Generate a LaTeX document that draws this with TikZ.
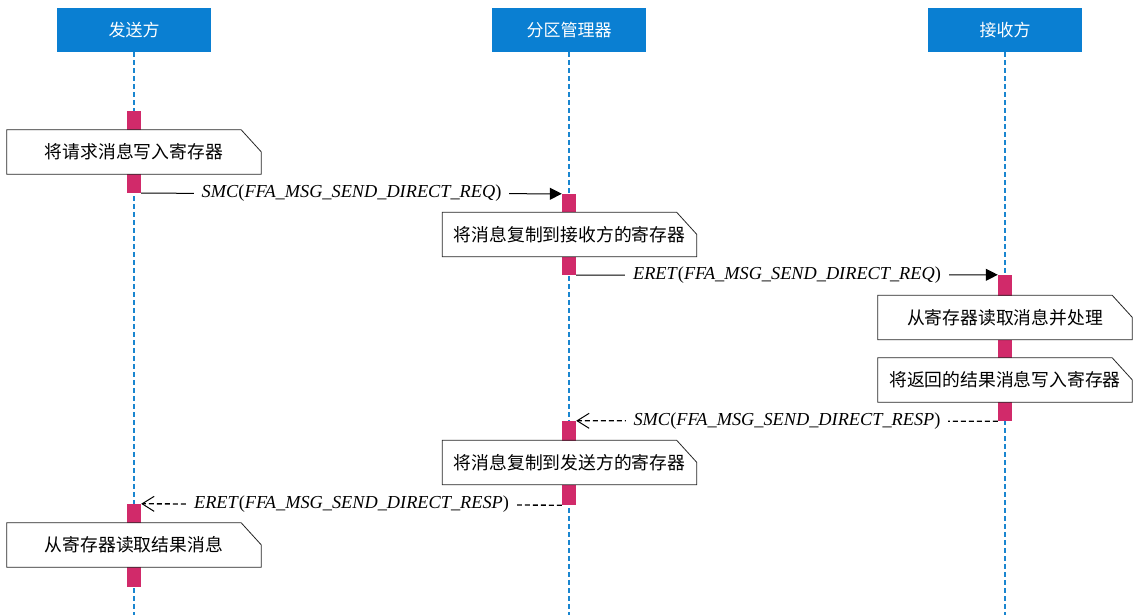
\documentclass[tikz,border=0pt]{standalone}
\usepackage{fontspec}
\setmainfont{Liberation Serif}
\newfontfamily\cjk{Noto Sans CJK SC}
\usetikzlibrary{arrows.meta}
\definecolor{hdr}{HTML}{0A7FD2}
\definecolor{life}{HTML}{1A86D0}
\definecolor{actcol}{HTML}{D12A6A}
\begin{document}
\begin{tikzpicture}[x=1pt,y=-1pt,
 header/.style={fill=hdr,text=white,minimum width=154pt,minimum height=44pt,inner sep=0pt,font=\cjk\fontsize{17}{20}\selectfont},
 lifeline/.style={draw=life,line width=1.6pt,dash pattern=on 5pt off 3pt},
 actbar/.style={fill=actcol,draw=none,minimum width=14pt,inner sep=0pt},
 notebox/.style={fill=white,minimum width=254pt,minimum height=44pt,inner sep=0pt},
 notetext/.style={font=\cjk\fontsize{17.8}{20}\selectfont},
 noteline/.style={draw=black!85,line width=0.8pt},
 msg/.style={line width=1pt},
 reqmsg/.style={msg,-{Triangle[length=12pt,width=12pt]}},
 respmsg/.style={msg,line width=1.3pt,dash pattern=on 5pt off 3pt,-{Straight Barb[length=12pt,width=15pt,line width=1pt]}},
 lbl/.style={fill=white,inner xsep=8pt,inner ysep=3pt,font=\fontsize{18.3}{20}\selectfont}
]
\useasboundingbox (0,0) rectangle (1136,615);
% headers
\node[header] (h1) at (134,30) {发送方};
\node[header] (h2) at (569,30) {分区管理器};
\node[header] (h3) at (1005,30) {接收方};
\coordinate (e1) at (134,615);
\coordinate (e2) at (569,615);
\coordinate (e3) at (1005,615);
\draw[lifeline] (h1.south) -- (e1);
\draw[lifeline] (h2.south) -- (e2);
\draw[lifeline] (h3.south) -- (e3);
% activation bars
\node[actbar,minimum height=82pt] (b1) at (134,152) {};
\node[actbar,minimum height=81pt] (b2) at (569,234.5) {};
\node[actbar,minimum height=146pt] (b3) at (1005,348) {};
\node[actbar,minimum height=84pt] (b4) at (569,463) {};
\node[actbar,minimum height=83pt] (b5) at (134,545.5) {};
% notes
\node[notebox] (n1) at (134,152) {};
\draw[noteline] (n1.south west) -- (n1.north west) -- ([xshift=-20pt]n1.north east) -- ([yshift=-22pt]n1.north east) -- (n1.south east) -- cycle;
\node[notetext] at (n1) {将请求消息写入寄存器};
\node[notebox] (n2) at (569.5,234.5) {};
\draw[noteline] (n2.south west) -- (n2.north west) -- ([xshift=-20pt]n2.north east) -- ([yshift=-22pt]n2.north east) -- (n2.south east) -- cycle;
\node[notetext] at (n2) {将消息复制到接收方的寄存器};
\node[notebox] (n3) at (1005,317.5) {};
\draw[noteline] (n3.south west) -- (n3.north west) -- ([xshift=-20pt]n3.north east) -- ([yshift=-22pt]n3.north east) -- (n3.south east) -- cycle;
\node[notetext] at (n3) {从寄存器读取消息并处理};
\node[notebox] (n4) at (1005,380) {};
\draw[noteline] (n4.south west) -- (n4.north west) -- ([xshift=-20pt]n4.north east) -- ([yshift=-22pt]n4.north east) -- (n4.south east) -- cycle;
\node[notetext] at (n4) {将返回的结果消息写入寄存器};
\node[notebox] (n5) at (569.5,462.5) {};
\draw[noteline] (n5.south west) -- (n5.north west) -- ([xshift=-20pt]n5.north east) -- ([yshift=-22pt]n5.north east) -- (n5.south east) -- cycle;
\node[notetext] at (n5) {将消息复制到发送方的寄存器};
\node[notebox] (n6) at (134,545) {};
\draw[noteline] (n6.south west) -- (n6.north west) -- ([xshift=-20pt]n6.north east) -- ([yshift=-22pt]n6.north east) -- (n6.south east) -- cycle;
\node[notetext] at (n6) {从寄存器读取结果消息};
% messages
\draw[reqmsg] (b1.south east) -- node[lbl] {\textit{SMC}(\textit{FFA\_MSG\_SEND\_DIRECT\_REQ})} (b2.north west);
\draw[reqmsg] (b2.south east) -- node[lbl] {\textit{ERET}(\textit{FFA\_MSG\_SEND\_DIRECT\_REQ})} (b3.north west);
\draw[respmsg] (b3.south west) -- node[lbl] {\textit{SMC}(\textit{FFA\_MSG\_SEND\_DIRECT\_RESP})} (b4.north east);
\draw[respmsg] (b4.south west) -- node[lbl] {\textit{ERET}(\textit{FFA\_MSG\_SEND\_DIRECT\_RESP})} (b5.north east);
\end{tikzpicture}
\end{document}
